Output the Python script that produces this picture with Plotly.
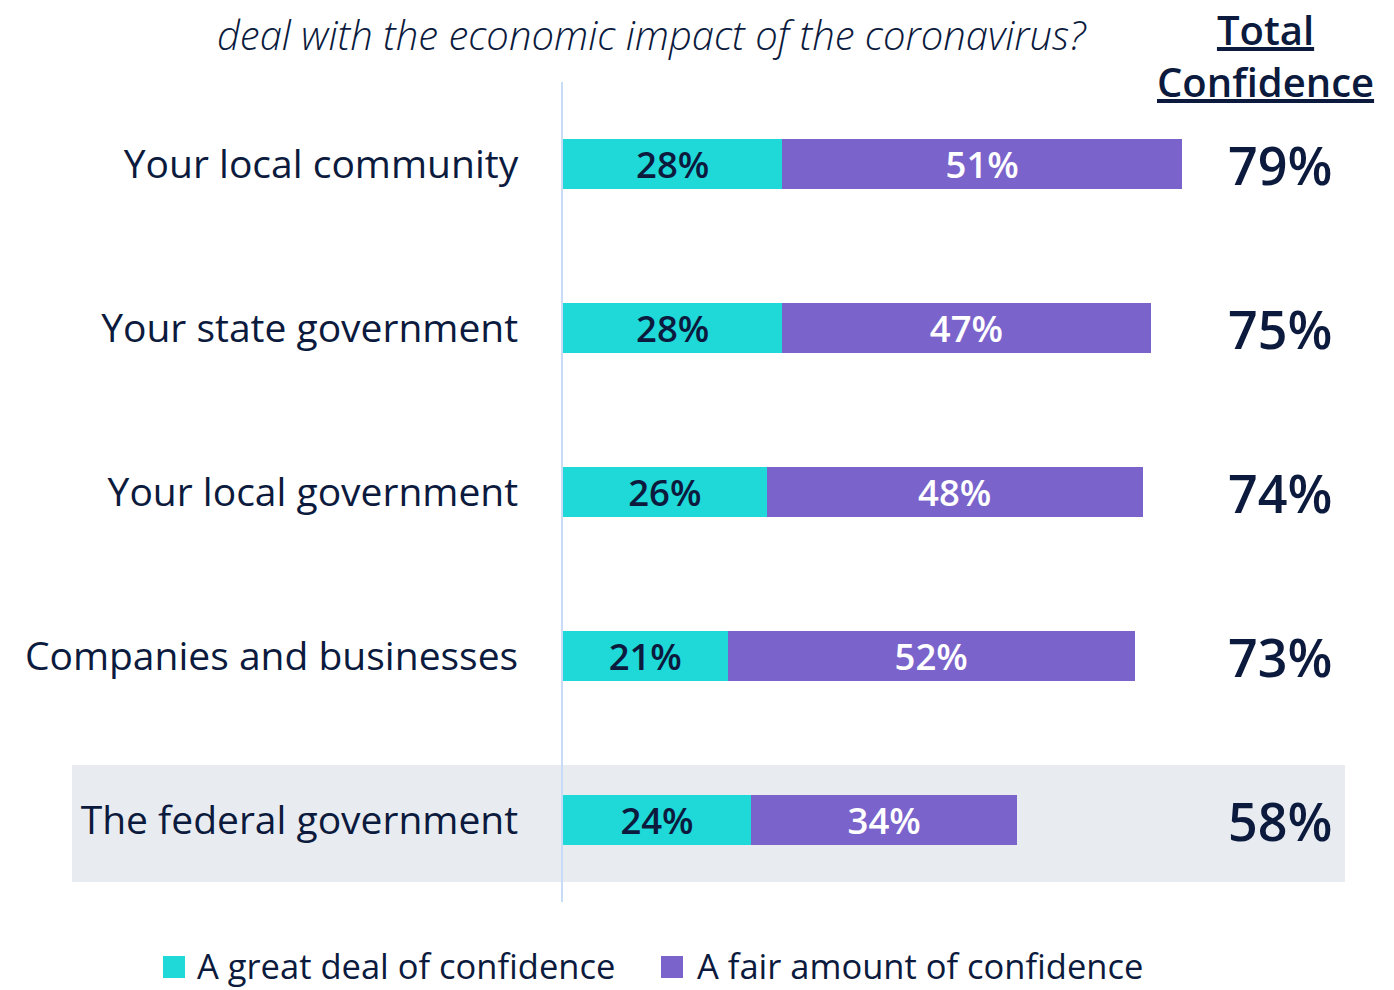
import plotly.graph_objects as go

categories = ["Your local community", "Your state government", "Your local government",
              "Companies and businesses", "The federal government"]
great_deal = [28, 28, 26, 21, 24]
fair_amount = [51, 47, 48, 52, 34]
totals = [79, 75, 74, 73, 58]
series_names = ["A great deal of confidence", "A fair amount of confidence"]
title_text = "deal with the economic impact of the coronavirus?"
header_lines = ["Total", "Confidence"]

NAVY = "#0b1a3d"
TEAL = "#1fd8d8"
PURPLE = "#7b63cc"
FONT = "Open Sans"
colors = [TEAL, PURPLE]

W, H = 1394, 990
L, R, T, B = 555, 0, 74, 96
PW, PH = W - L - R, H - T - B
XMAX = PW / 7.835  # data units across plot width


def px(x):
    return (x - L) / PW


def py(y):
    return (H - B - y) / PH


fig = go.Figure()
fig.add_trace(go.Bar(
    y=categories, x=great_deal, orientation="h", name=series_names[0],
    marker=dict(color=TEAL, line=dict(width=0)), showlegend=False,
    text=[f"{v}%" for v in great_deal], textposition="inside", insidetextanchor="middle",
    constraintext="none",
    textfont=dict(family=FONT, size=36.5, color=NAVY, weight=600),
    width=0.31,
))
fig.add_trace(go.Bar(
    y=categories, x=fair_amount, orientation="h", name=series_names[1],
    marker=dict(color=PURPLE, line=dict(width=0)), showlegend=False,
    text=[f"{v}%" for v in fair_amount], textposition="inside", insidetextanchor="middle",
    constraintext="none",
    textfont=dict(family=FONT, size=36.5, color="white", weight=600),
    width=0.31,
))

for c, t in zip(categories, totals):
    fig.add_annotation(x=91.5, y=c, xref="x", yref="y", text=f"{t}%", showarrow=False,
                       font=dict(family=FONT, size=52, color=NAVY, weight=600),
                       xanchor="center", yanchor="middle")

# highlight band behind last row
fig.add_shape(type="rect", xref="paper", yref="paper", x0=px(64), x1=px(1337),
              y0=py(874), y1=py(757), fillcolor="#e8ecf0", line=dict(width=0), layer="below")

fig.add_annotation(xref="paper", yref="paper", x=px(644), y=py(27),
                   text="<i>" + title_text + "</i>", showarrow=False,
                   font=dict(family=FONT, size=40, color=NAVY, weight=300),
                   xanchor="center", yanchor="middle")
fig.add_annotation(xref="paper", yref="paper", x=px(1257), y=py(48),
                   text="<br>".join("<u>" + s + "</u>" for s in header_lines),
                   showarrow=False, borderpad=0,
                   font=dict(family=FONT, size=40, color=NAVY, weight=600),
                   xanchor="center", yanchor="middle")

# legend (manual, to keep it on one line)
leg_sq_x = [155, 653]
leg_txt_x = [187, 687]
for name, col, sx, tx in zip(series_names, colors, leg_sq_x, leg_txt_x):
    fig.add_shape(type="rect", xref="paper", yref="paper", x0=px(sx), x1=px(sx + 22),
                  y0=py(970), y1=py(948), fillcolor=col, line=dict(width=0))
    fig.add_annotation(xref="paper", yref="paper", x=px(tx), y=py(957), text=name,
                       showarrow=False, xanchor="left", yanchor="middle",
                       font=dict(family=FONT, size=34.5, color=NAVY))

fig.update_layout(
    width=W, height=H,
    barmode="stack",
    paper_bgcolor="white", plot_bgcolor="rgba(0,0,0,0)",
    margin=dict(l=L, r=R, t=T, b=B, autoexpand=False),
    font=dict(family=FONT, color=NAVY),
    showlegend=False,
)
fig.update_xaxes(range=[0, XMAX], showgrid=False, zeroline=False, showticklabels=False,
                 showline=False, fixedrange=True, automargin=False)
fig.update_yaxes(categoryorder="array", categoryarray=categories,
                 range=[4.5, -0.5], showgrid=False, zeroline=False, showline=True,
                 linecolor="#c8dcf7", linewidth=2, ticks="", ticklabelstandoff=35,
                 automargin=False,
                 tickfont=dict(family=FONT, size=39, color=NAVY))

fig.write_html("out.html")
